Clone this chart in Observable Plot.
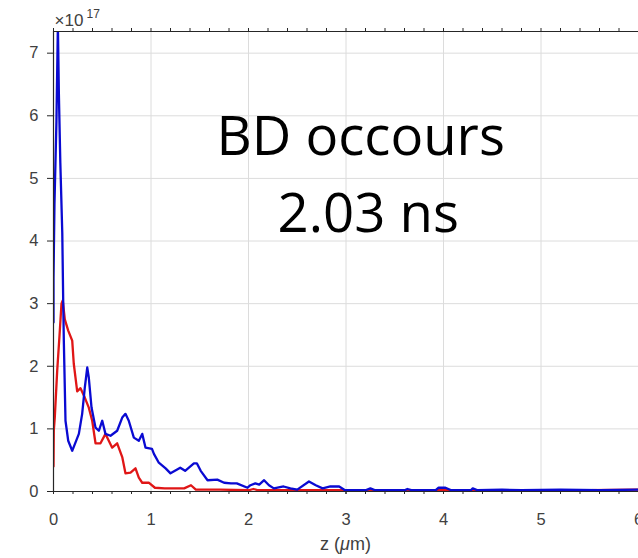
<!DOCTYPE html>
<html>
<head>
<meta charset="utf-8">
<script src="https://cdn.jsdelivr.net/npm/d3@7"></script>
<script src="https://cdn.jsdelivr.net/npm/@observablehq/plot@0.6"></script>
<style>
  html, body { margin: 0; padding: 0; background: #fff; overflow: hidden; }
  #chart { width: 638px; height: 558px; overflow: hidden; }
</style>
</head>
<body>
<div id="chart"></div>
<script>
// ---- data (n in units of 1e17) ----
const zBlue = [0, 0.0, 0.01, 0.03, 0.045, 0.055, 0.07, 0.09, 0.10, 0.106, 0.123, 0.151, 0.192, 0.26, 0.294, 0.321, 0.346, 0.362, 0.39, 0.431, 0.465, 0.5, 0.533, 0.585, 0.653, 0.705, 0.738, 0.772, 0.824, 0.875, 0.91, 0.944, 1.01, 1.03, 1.08, 1.15, 1.2, 1.3, 1.35, 1.44, 1.47, 1.51, 1.58, 1.68, 1.75, 1.82, 1.88, 1.99, 2.02, 2.07, 2.11, 2.16, 2.21, 2.26, 2.36, 2.43, 2.5, 2.62, 2.69, 2.76, 2.84, 2.93, 2.99, 3.2, 3.25, 3.3, 3.6, 3.63, 3.68, 3.92, 3.95, 4.02, 4.08, 4.28, 4.3, 4.35, 4.6, 4.8, 5.2, 5.6, 6.0];
const nBlue = [2.7, 3.4, 4.6, 5.9, 7.45, 6.36, 5.25, 4.13, 3.0, 2.4, 1.13, 0.81, 0.65, 0.92, 1.24, 1.66, 1.98, 1.82, 1.34, 1.02, 0.97, 1.13, 0.92, 0.89, 0.97, 1.18, 1.24, 1.13, 0.86, 0.81, 0.92, 0.70, 0.68, 0.6, 0.46, 0.37, 0.29, 0.38, 0.33, 0.45, 0.45, 0.33, 0.18, 0.19, 0.14, 0.13, 0.13, 0.06, 0.1, 0.13, 0.11, 0.18, 0.1, 0.05, 0.08, 0.05, 0.03, 0.16, 0.1, 0.05, 0.08, 0.08, 0.02, 0.02, 0.05, 0.02, 0.02, 0.04, 0.02, 0.02, 0.06, 0.06, 0.02, 0.02, 0.05, 0.02, 0.03, 0.02, 0.03, 0.02, 0.03];

const zRed = [0, 0.003, 0.013, 0.038, 0.062, 0.082, 0.095, 0.116, 0.151, 0.192, 0.208, 0.243, 0.277, 0.321, 0.362, 0.397, 0.431, 0.482, 0.533, 0.567, 0.602, 0.653, 0.705, 0.738, 0.79, 0.841, 0.875, 0.91, 0.977, 1.04, 1.14, 1.34, 1.41, 1.46, 1.71, 2.0, 2.05, 2.1, 2.5, 3.0, 3.5, 4.0, 4.5, 5.0, 5.5, 6.0];
const nRed = [0.4, 0.97, 1.18, 1.93, 2.5, 3.0, 3.05, 2.75, 2.57, 2.41, 2.04, 1.6, 1.65, 1.5, 1.34, 1.13, 0.77, 0.77, 0.92, 0.81, 0.70, 0.77, 0.55, 0.29, 0.30, 0.37, 0.22, 0.14, 0.14, 0.06, 0.05, 0.05, 0.1, 0.03, 0.03, 0.02, 0.04, 0.02, 0.02, 0.02, 0.02, 0.02, 0.02, 0.02, 0.02, 0.03];

const xTicks = [0, 1, 2, 3, 4, 5, 6];
const xMinorTicks = d3.range(0, 31).map(i => i / 5);
const yTicks = [0, 1, 2, 3, 4, 5, 6, 7];
const yMax = 7.346;
const xLabelPre = "z (";
const xLabelMu = "\u03bc";
const xLabelPost = "m)";
const expBase = "\u00d710";
const expPow = "17";
const noteLine1 = "BD occours";
const noteLine2 = "2.03 ns";

const blue = zBlue.map((z, i) => ({z, n: nBlue[i]}));
const red = zRed.map((z, i) => ({z, n: nRed[i]}));

const gridColor = "#dcdcdc";
const axisColor = "#262626";
const tickTextColor = "#404040";

const chart = Plot.plot({
  width: 638,
  height: 558,
  marginLeft: 53,
  marginRight: 0,
  marginTop: 31,
  marginBottom: 67,
  style: {fontFamily: "'Liberation Sans', Arial, sans-serif", background: "#fff", overflow: "visible"},
  x: {domain: [0, 6]},
  y: {domain: [0, yMax]},
  marks: [
    Plot.gridX(xTicks, {stroke: gridColor, strokeOpacity: 1}),
    Plot.gridY(yTicks, {stroke: gridColor, strokeOpacity: 1}),
    Plot.line(red, {x: "z", y: "n", stroke: "#e01616", strokeWidth: 2.3, clip: true}),
    Plot.line(blue, {x: "z", y: "n", stroke: "#0a0ad2", strokeWidth: 2.3, clip: true}),
    Plot.ruleX([0], {stroke: axisColor, strokeWidth: 1.2}),
    Plot.ruleY([0], {stroke: axisColor, strokeWidth: 1.2}),
    Plot.ruleY([yMax], {stroke: axisColor, strokeWidth: 1.2}),
    Plot.axisX(xMinorTicks, {anchor: "bottom", tickSize: 3, tickFormat: () => "", label: null, stroke: axisColor}),
    Plot.axisX(xTicks, {anchor: "bottom", tickSize: 3, tickPadding: 19, fontSize: 16.5, tickFormat: d3.format("d"), label: null, color: tickTextColor, stroke: axisColor}),
    Plot.axisX(xMinorTicks, {anchor: "top", tickSize: 4, tickFormat: () => "", label: null, stroke: axisColor}),
    Plot.axisY(yTicks, {anchor: "left", tickSize: 6, tickPadding: 9, fontSize: 16.5, tickFormat: d3.format("d"), label: null, color: tickTextColor, stroke: axisColor}),
    Plot.text([expBase], {frameAnchor: "top-left", textAnchor: "start", lineAnchor: "middle", dx: 1, dy: -11.4, fontSize: 17, fill: tickTextColor}),
    Plot.text([expPow], {frameAnchor: "top-left", textAnchor: "start", lineAnchor: "middle", dx: 33, dy: -17, fontSize: 12, fill: tickTextColor}),
    Plot.text([noteLine1], {frameAnchor: "top-left", textAnchor: "start", lineAnchor: "middle", dx: 163, dy: 106.5, fontSize: 54.5, fontFamily: "'Open Sans', sans-serif", fill: "#000"}),
    Plot.text([noteLine2], {frameAnchor: "top-left", textAnchor: "start", lineAnchor: "middle", dx: 224, dy: 183.5, fontSize: 54.5, fontFamily: "'Open Sans', sans-serif", fill: "#000"})
  ]
});

// x-axis title with italic mu
const svg = d3.select(chart);
const lbl = svg.append("text")
  .attr("x", 345.5)
  .attr("y", 550)
  .attr("text-anchor", "middle")
  .attr("font-size", 18)
  .attr("fill", tickTextColor);
lbl.append("tspan").text(xLabelPre);
lbl.append("tspan").attr("font-style", "italic").text(xLabelMu);
lbl.append("tspan").text(xLabelPost);

document.getElementById("chart").appendChild(chart);
</script>
</body>
</html>
